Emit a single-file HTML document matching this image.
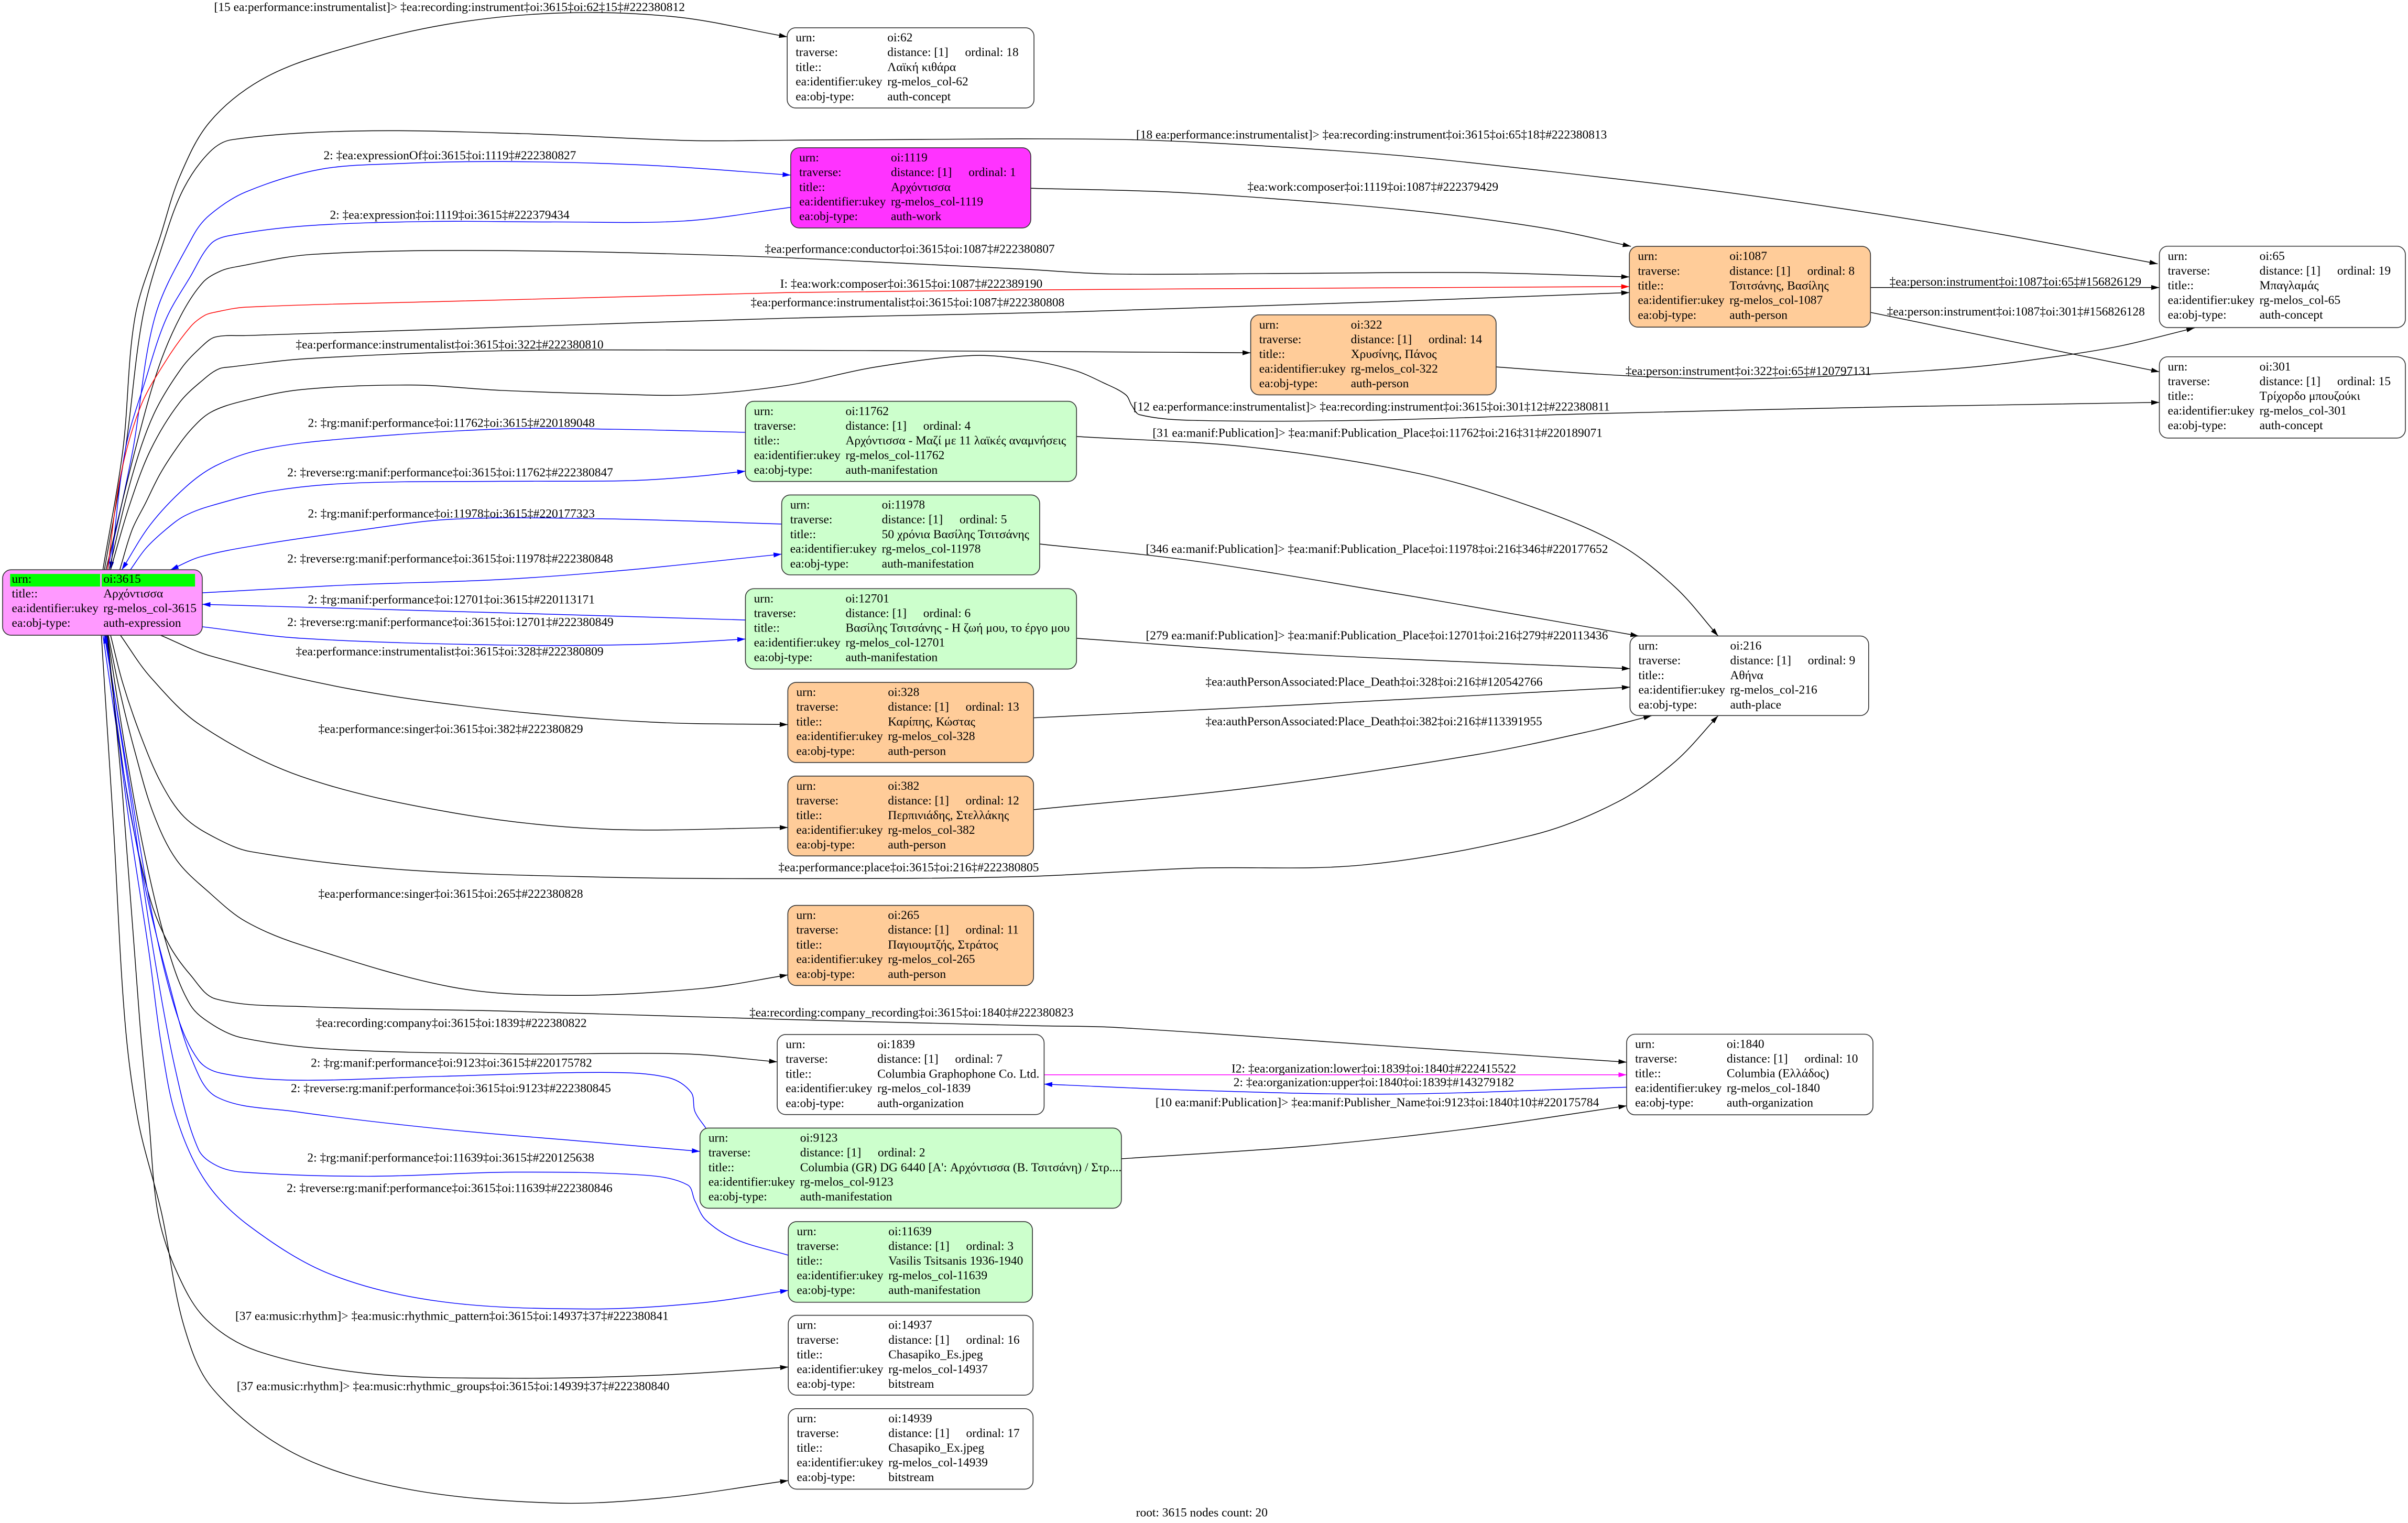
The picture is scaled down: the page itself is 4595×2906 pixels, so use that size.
<!DOCTYPE html>
<html><head><meta charset="utf-8">
<style>
html,body{margin:0;padding:0;background:#fff;}
svg{display:block;}
text{font-family:"Liberation Serif","DejaVu Serif",serif;font-size:8px;fill:#000;}
.e{fill:none;stroke-width:0.5;}
.k{stroke:#000;}
.b{stroke:#0000ff;}
.r{stroke:#ff0000;}
.m{stroke:#ff00ff;}
.n{stroke:#333;stroke-width:0.55;}
</style></head><body>
<svg width="4595" height="2906" viewBox="0 0 1568 991.65" preserveAspectRatio="none" xmlns="http://www.w3.org/2000/svg">
<defs>
<marker id="ak" markerUnits="userSpaceOnUse" markerWidth="6" markerHeight="4" refX="5.3" refY="1.6" orient="auto"><path d="M0,0L5.3,1.6L0,3.2z" fill="#000"/></marker>
<marker id="ab" markerUnits="userSpaceOnUse" markerWidth="6" markerHeight="4" refX="5.3" refY="1.6" orient="auto"><path d="M0,0L5.3,1.6L0,3.2z" fill="#0000ff"/></marker>
<marker id="ar" markerUnits="userSpaceOnUse" markerWidth="6" markerHeight="4" refX="5.3" refY="1.6" orient="auto"><path d="M0,0L5.3,1.6L0,3.2z" fill="#ff0000"/></marker>
<marker id="am" markerUnits="userSpaceOnUse" markerWidth="6" markerHeight="4" refX="5.3" refY="1.6" orient="auto"><path d="M0,0L5.3,1.6L0,3.2z" fill="#ff00ff"/></marker>
</defs>
<rect x="0" y="0" width="1568" height="991.65" fill="#fff"/>

<!-- EDGES -->
<g id="edges">
<polyline class="e k" marker-end="url(#ak)" points="67,371 80,293 88,206 104.5,153.6 117,115 136.5,79.5 170,52 215.5,34 290,16 364,8.5 440,11 512.6,24"/>
<polyline class="e k" marker-end="url(#ak)" points="68,371 81.6,293 93,206 107.7,153.6 120,122 136.5,99 150.8,91 232,85.3 340,87 447.8,91.5 511,91.3 600,90.8 665.4,90.4 738.8,91 812.3,94.4 910.2,101.2 1008.2,111.5 1106.1,122.9 1204,136.5 1302,152.4 1405,171.8"/>
<polyline class="e b" marker-end="url(#ab)" points="70,371 86.5,293 101,206 125.7,153.6 136.5,140 160,125 208.3,110.3 260,106.5 328,105.2 420,107.5 514.9,114"/>
<polyline class="e b" marker-end="url(#ab)" points="514.9,135 445.3,143.9 360,144.5 280,144.2 200,147 148.5,153.6 137,159 124,180 108,208 94.7,247.6 81.6,292.8 72,371"/>
<polyline class="e k" marker-end="url(#ak)" points="69,371 88,293 103,240 117.5,206 132,184 143.6,176.5 155,173.5 202.4,165.7 313.4,163.1 477.7,166.5 600,172 665.4,175.2 724.2,178.4 840,178 959.2,177.5 1061,180.3"/>
<polyline class="e r" marker-end="url(#ar)" points="70,371 78.4,310.3 91.4,265 107.7,235.4 124,212.8 133,205.5 140.4,203.2 160,200 300,196 512,190.5 665.4,188.8 850,187.7 1061,186.6"/>
<polyline class="e k" marker-end="url(#ak)" points="71,371 86,310 100,270 118,240 132,225 140.4,219.4 160,218.5 300,214 512,207.2 700,203 900,196.5 1061,190.5"/>
<polyline class="e k" marker-end="url(#ak)" points="72,371 84,330 98,293 117,262 135,245 143,240 150.2,238.9 200,233.5 326.5,228.4 477.7,228 650,228.7 814.4,229.7"/>
<polyline class="e k" marker-end="url(#ak)" points="78,371 86,345 94.7,327.7 104,309 114.3,292.8 125,279 137.1,268.5 156.7,261.5 195.9,253.7 267.7,250.7 326.5,254.2 400,256.6 450.5,257.1 512,251 570,239 633.2,231.5 670,234.5 699.8,241.2 718,249 733,257 737,264 742,270 776.4,273.7 887.5,273.7 1035.5,269.4 1245.7,264.6 1406.1,262"/>
<polyline class="e b" marker-end="url(#ab)" points="485.4,281.5 400,279.5 326.5,279.3 222,285.9 169.8,292.8 140.4,303.3 120.8,317.2 97.9,341.6 79.3,371"/>
<polyline class="e b" marker-end="url(#ab)" points="84.9,371 95,357 107.7,345 120,336 137.1,329.4 176.3,319.8 228.5,314.6 326.5,313.4 408,313 450,310.5 485.4,306.8"/>
<polyline class="e b" marker-end="url(#ab)" points="509,341.2 391.8,337.8 293.8,338.1 228.5,346 169.8,354.6 130.6,362.5 111,371"/>
<polyline class="e b" marker-end="url(#ab)" points="131.7,386 228.5,380.8 326.5,377.3 408,371.2 509,360.8"/>
<polyline class="e b" marker-end="url(#ab)" points="485.4,403.7 326.5,399 131.7,393.5"/>
<polyline class="e b" marker-end="url(#ab)" points="131.7,408.1 195.9,415.6 326.5,420 420,419.5 485.4,416.1"/>
<polyline class="e k" marker-end="url(#ak)" points="104.5,413.6 137.1,427.1 228.5,448.7 326.5,462.4 424.4,470.2 513,471.8"/>
<polyline class="e k" marker-end="url(#ak)" points="78.4,413.6 97.9,440.8 130.6,472.2 195.9,505.5 293.8,529 391.8,539.8 513,538.8"/>
<polyline class="e k" marker-end="url(#ak)" points="72,413.6 80,445 92,480 105,510 120,532 140.4,545.6 163.2,554.5 261.2,566.2 391.8,571.1 512,572.1 665.4,570.8 776.4,565.3 887.5,563.2 998.5,543.6 1054,521.8 1091,495.7 1118.8,466"/>
<polyline class="e k" marker-end="url(#ak)" points="70.5,413.6 78,450 88,490 100,530 115,560 137.1,581.9 160,600 195.9,615.2 293.8,642.6 368.9,648.1 457,643.6 513,634.8"/>
<polyline class="e k" marker-end="url(#ak)" points="69,413.6 76,470 85,530 97.9,585.8 110,615 124,634.8 140.4,650.4 200,655.5 326.5,658.3 512,663.8 675.6,667.9 727,669 900,680.8 1059.2,691.6"/>
<polyline class="e k" marker-end="url(#ak)" points="70,413.6 82,490 95,560 110,620 124,654.4 138.9,667.5 158,675.8 215.5,683.1 335,686.2 445.3,686.2 506.1,691.4"/>
<polyline class="e b" marker-end="url(#ab)" points="459.6,734.5 452.5,723.7 450,711.2 435.7,701.8 397.4,698.3 287.3,700.8 191.5,703.3 143.6,698.7 129.3,690.4 115,660 100,600 86,520 68,413.6"/>
<polyline class="e b" marker-end="url(#ab)" points="67,413.6 80,500 95,580 110,640 125,690 141.2,714.3 191.5,723.7 287.3,735.1 383,743.4 455.8,749.7"/>
<polyline class="e b" marker-end="url(#ab)" points="513.3,817.3 478.8,806.9 459.6,794.4 452.5,781.9 447.7,771.5 421.3,765.3 335.2,763.2 239.4,765.9 158,763.2 141.2,759 129.3,748.6 115,700 100,620 85,520 68.5,413.6"/>
<polyline class="e b" marker-end="url(#ab)" points="69.5,413.6 82,520 97,620 105,680 114.9,727.8 134,769.4 162.8,798.6 215.5,829.8 287.3,847.5 383,852.3 454.9,848.5 513.3,840.2"/>
<polyline class="e k" marker-end="url(#ak)" points="70,413.6 80,520 91,665 97,730 102.9,790.2 114.9,827.7 134,858.9 167.6,879.7 239.4,894.3 335.2,897.4 430.9,895.3 513.3,890.1"/>
<polyline class="e k" marker-end="url(#ak)" points="66,413.6 74,540 81.4,665.4 90,730 105.3,790.2 119.7,863.1 138.9,904.7 191.5,946.3 263.3,969.2 359.1,978.6 430.9,975.4 513.3,964"/>
<polyline class="e k" marker-end="url(#ak)" points="671.2,122.6 763.3,125.1 861.3,131.9 934.7,138.8 1008.2,149 1062,160.4"/>
<polyline class="e k" marker-end="url(#ak)" points="1218,187.2 1406.1,187.2"/>
<polyline class="e k" marker-end="url(#ak)" points="1218,203.4 1406.1,242.1"/>
<polyline class="e k" marker-end="url(#ak)" points="974.2,238.9 1035.5,243.3 1090,246 1133.6,246.7 1200,244.5 1282,239.2 1340,232 1381,225.2 1429,213.5"/>
<polyline class="e k" marker-end="url(#ak)" points="701,284.2 813.4,291.1 924.5,308.5 998.5,330.3 1054,354.2 1091,382.5 1118.8,414.1"/>
<polyline class="e k" marker-end="url(#ak)" points="677,354.2 776.4,365.1 924.5,389.1 1010,404 1067,414.1"/>
<polyline class="e k" marker-end="url(#ak)" points="701,415.6 850.4,426.1 1061.4,435.4"/>
<polyline class="e k" marker-end="url(#ak)" points="672.8,467.4 850.4,458.7 1061.4,447.4"/>
<polyline class="e k" marker-end="url(#ak)" points="672.8,527.2 813.4,513.1 961.5,491.3 1035.5,476.1 1075.5,466"/>
<polyline class="e m" marker-end="url(#am)" points="679.9,699.8 1059.2,699.8"/>
<polyline class="e b" marker-end="url(#ab)" points="1059.2,707.9 905,712.4 780,710 679.9,705.9"/>
<polyline class="e k" marker-end="url(#ak)" points="730.2,754.5 851.9,746.2 957.5,734.8 1059.2,720"/>
</g>

<!-- EDGE LABELS -->
<g id="labels">
<text x="139.4" y="7.2">[15 ea:performance:instrumentalist]&gt; ‡ea:recording:instrument‡oi:3615‡oi:62‡15‡#222380812</text>
<text x="739.8" y="90.2">[18 ea:performance:instrumentalist]&gt; ‡ea:recording:instrument‡oi:3615‡oi:65‡18‡#222380813</text>
<text x="210.7" y="103.8">2: ‡ea:expressionOf‡oi:3615‡oi:1119‡#222380827</text>
<text x="214.8" y="142.5">2: ‡ea:expression‡oi:1119‡oi:3615‡#222379434</text>
<text x="812.3" y="124.3">‡ea:work:composer‡oi:1119‡oi:1087‡#222379429</text>
<text x="498" y="164.7">‡ea:performance:conductor‡oi:3615‡oi:1087‡#222380807</text>
<text x="508" y="187.4">I: ‡ea:work:composer‡oi:3615‡oi:1087‡#222389190</text>
<text x="488.8" y="199.4">‡ea:performance:instrumentalist‡oi:3615‡oi:1087‡#222380808</text>
<text x="1230.4" y="186">‡ea:person:instrument‡oi:1087‡oi:65‡#156826129</text>
<text x="1228.7" y="205.4">‡ea:person:instrument‡oi:1087‡oi:301‡#156826128</text>
<text x="192.6" y="227">‡ea:performance:instrumentalist‡oi:3615‡oi:322‡#222380810</text>
<text x="1058.5" y="244.1">‡ea:person:instrument‡oi:322‡oi:65‡#120797131</text>
<text x="738" y="267.3">[12 ea:performance:instrumentalist]&gt; ‡ea:recording:instrument‡oi:3615‡oi:301‡12‡#222380811</text>
<text x="200.5" y="278">2: ‡rg:manif:performance‡oi:11762‡oi:3615‡#220189048</text>
<text x="750.5" y="284.4">[31 ea:manif:Publication]&gt; ‡ea:manif:Publication_Place‡oi:11762‡oi:216‡31‡#220189071</text>
<text x="187.1" y="310.2">2: ‡reverse:rg:manif:performance‡oi:3615‡oi:11762‡#222380847</text>
<text x="200.5" y="336.9">2: ‡rg:manif:performance‡oi:11978‡oi:3615‡#220177323</text>
<text x="746.1" y="360.1">[346 ea:manif:Publication]&gt; ‡ea:manif:Publication_Place‡oi:11978‡oi:216‡346‡#220177652</text>
<text x="187.1" y="366.3">2: ‡reverse:rg:manif:performance‡oi:3615‡oi:11978‡#222380848</text>
<text x="200.5" y="392.9">2: ‡rg:manif:performance‡oi:12701‡oi:3615‡#220113171</text>
<text x="187.1" y="407.7">2: ‡reverse:rg:manif:performance‡oi:3615‡oi:12701‡#222380849</text>
<text x="746.1" y="416.3">[279 ea:manif:Publication]&gt; ‡ea:manif:Publication_Place‡oi:12701‡oi:216‡279‡#220113436</text>
<text x="192.6" y="426.7">‡ea:performance:instrumentalist‡oi:3615‡oi:328‡#222380809</text>
<text x="785" y="446.5">‡ea:authPersonAssociated:Place_Death‡oi:328‡oi:216‡#120542766</text>
<text x="207.3" y="477.3">‡ea:performance:singer‡oi:3615‡oi:382‡#222380829</text>
<text x="785" y="472.2">‡ea:authPersonAssociated:Place_Death‡oi:382‡oi:216‡#113391955</text>
<text x="676.5" y="567.3" text-anchor="end">‡ea:performance:place‡oi:3615‡oi:216‡#222380805</text>
<text x="207.3" y="584.5">‡ea:performance:singer‡oi:3615‡oi:265‡#222380828</text>
<text x="488" y="661.9">‡ea:recording:company_recording‡oi:3615‡oi:1840‡#222380823</text>
<text x="205.7" y="668.7">‡ea:recording:company‡oi:3615‡oi:1839‡#222380822</text>
<text x="202.4" y="694.6">2: ‡rg:manif:performance‡oi:9123‡oi:3615‡#220175782</text>
<text x="801.9" y="698.4">I2: ‡ea:organization:lower‡oi:1839‡oi:1840‡#222415522</text>
<text x="803.2" y="707.3">2: ‡ea:organization:upper‡oi:1840‡oi:1839‡#143279182</text>
<text x="189.4" y="711.2">2: ‡reverse:rg:manif:performance‡oi:3615‡oi:9123‡#222380845</text>
<text x="752.4" y="720.3">[10 ea:manif:Publication]&gt; ‡ea:manif:Publisher_Name‡oi:9123‡oi:1840‡10‡#220175784</text>
<text x="200.1" y="756.4">2: ‡rg:manif:performance‡oi:11639‡oi:3615‡#220125638</text>
<text x="186.7" y="776.2">2: ‡reverse:rg:manif:performance‡oi:3615‡oi:11639‡#222380846</text>
<text x="153.2" y="859.4">[37 ea:music:rhythm]&gt; ‡ea:music:rhythmic_pattern‡oi:3615‡oi:14937‡37‡#222380841</text>
<text x="154.2" y="905.2">[37 ea:music:rhythm]&gt; ‡ea:music:rhythmic_groups‡oi:3615‡oi:14939‡37‡#222380840</text>
<text x="739.7" y="987.4">root: 3615 nodes count: 20</text>
</g>

<!-- ROOT NODE -->
<g transform="translate(1.7,371)">
<rect x="0" y="0" width="130" height="42.6" rx="5.5" fill="#ff99ff" class="n"/>
<rect x="4.9" y="2.7" width="58.6" height="8.2" fill="#00ff00"/>
<rect x="64.5" y="2.7" width="60.8" height="8.2" fill="#00ff00"/>
<text x="6" y="8.4">urn:</text><text x="65.6" y="8.4">oi:3615</text>
<text x="6" y="18">title::</text><text x="65.6" y="18">Αρχόντισσα</text>
<text x="6" y="27.5">ea:identifier:ukey</text><text x="65.6" y="27.5">rg-melos_col-3615</text>
<text x="6" y="37.1">ea:obj-type:</text><text x="65.6" y="37.1">auth-expression</text>
</g>

<!-- NODES -->
<g transform="translate(512.6,18.1)">
<rect width="160.7" height="52.2" rx="5.5" fill="#ffffff" class="n"/>
<text x="5.5" y="8.9">urn:</text><text x="65.2" y="8.9">oi:62</text>
<text x="5.5" y="18.5">traverse:</text><text x="65.2" y="18.5">distance: [1]</text><text x="115.8" y="18.5">ordinal: 18</text>
<text x="5.5" y="28.1">title::</text><text x="65.2" y="28.1">Λαϊκή κιθάρα</text>
<text x="5.5" y="37.6">ea:identifier:ukey</text><text x="65.2" y="37.6">rg-melos_col-62</text>
<text x="5.5" y="47.2">ea:obj-type:</text><text x="65.2" y="47.2">auth-concept</text>
</g>

<g transform="translate(514.9,96.2)">
<rect width="156.3" height="52.2" rx="5.5" fill="#ff33ff" class="n"/>
<text x="5.5" y="8.9">urn:</text><text x="65.2" y="8.9">oi:1119</text>
<text x="5.5" y="18.5">traverse:</text><text x="65.2" y="18.5">distance: [1]</text><text x="115.8" y="18.5">ordinal: 1</text>
<text x="5.5" y="28.1">title::</text><text x="65.2" y="28.1">Αρχόντισσα</text>
<text x="5.5" y="37.6">ea:identifier:ukey</text><text x="65.2" y="37.6">rg-melos_col-1119</text>
<text x="5.5" y="47.2">ea:obj-type:</text><text x="65.2" y="47.2">auth-work</text>
</g>

<g transform="translate(1061,160.4)">
<rect width="157" height="52.6" rx="5.5" fill="#ffcc99" class="n"/>
<text x="5.5" y="8.9">urn:</text><text x="65.2" y="8.9">oi:1087</text>
<text x="5.5" y="18.5">traverse:</text><text x="65.2" y="18.5">distance: [1]</text><text x="115.8" y="18.5">ordinal: 8</text>
<text x="5.5" y="28.1">title::</text><text x="65.2" y="28.1">Τσιτσάνης, Βασίλης</text>
<text x="5.5" y="37.6">ea:identifier:ukey</text><text x="65.2" y="37.6">rg-melos_col-1087</text>
<text x="5.5" y="47.2">ea:obj-type:</text><text x="65.2" y="47.2">auth-person</text>
</g>

<g transform="translate(1406.1,160.3)">
<rect width="160.2" height="53" rx="5.5" fill="#ffffff" class="n"/>
<text x="5.5" y="8.9">urn:</text><text x="65.2" y="8.9">oi:65</text>
<text x="5.5" y="18.5">traverse:</text><text x="65.2" y="18.5">distance: [1]</text><text x="115.8" y="18.5">ordinal: 19</text>
<text x="5.5" y="28.1">title::</text><text x="65.2" y="28.1">Μπαγλαμάς</text>
<text x="5.5" y="37.6">ea:identifier:ukey</text><text x="65.2" y="37.6">rg-melos_col-65</text>
<text x="5.5" y="47.2">ea:obj-type:</text><text x="65.2" y="47.2">auth-concept</text>
</g>

<g transform="translate(1406.1,232.3)">
<rect width="160.2" height="52.9" rx="5.5" fill="#ffffff" class="n"/>
<text x="5.5" y="8.9">urn:</text><text x="65.2" y="8.9">oi:301</text>
<text x="5.5" y="18.5">traverse:</text><text x="65.2" y="18.5">distance: [1]</text><text x="115.8" y="18.5">ordinal: 15</text>
<text x="5.5" y="28.1">title::</text><text x="65.2" y="28.1">Τρίχορδο μπουζούκι</text>
<text x="5.5" y="37.6">ea:identifier:ukey</text><text x="65.2" y="37.6">rg-melos_col-301</text>
<text x="5.5" y="47.2">ea:obj-type:</text><text x="65.2" y="47.2">auth-concept</text>
</g>

<g transform="translate(814.4,205)">
<rect width="159.8" height="52.1" rx="5.5" fill="#ffcc99" class="n"/>
<text x="5.5" y="8.9">urn:</text><text x="65.2" y="8.9">oi:322</text>
<text x="5.5" y="18.5">traverse:</text><text x="65.2" y="18.5">distance: [1]</text><text x="115.8" y="18.5">ordinal: 14</text>
<text x="5.5" y="28.1">title::</text><text x="65.2" y="28.1">Χρυσίνης, Πάνος</text>
<text x="5.5" y="37.6">ea:identifier:ukey</text><text x="65.2" y="37.6">rg-melos_col-322</text>
<text x="5.5" y="47.2">ea:obj-type:</text><text x="65.2" y="47.2">auth-person</text>
</g>

<g transform="translate(485.4,261.3)">
<rect width="215.6" height="52.2" rx="5.5" fill="#ccffcc" class="n"/>
<text x="5.5" y="8.9">urn:</text><text x="65.2" y="8.9">oi:11762</text>
<text x="5.5" y="18.5">traverse:</text><text x="65.2" y="18.5">distance: [1]</text><text x="115.8" y="18.5">ordinal: 4</text>
<text x="5.5" y="28.1">title::</text><text x="65.2" y="28.1">Αρχόντισσα - Μαζί με 11 λαϊκές αναμνήσεις</text>
<text x="5.5" y="37.6">ea:identifier:ukey</text><text x="65.2" y="37.6">rg-melos_col-11762</text>
<text x="5.5" y="47.2">ea:obj-type:</text><text x="65.2" y="47.2">auth-manifestation</text>
</g>

<g transform="translate(509,322.3)">
<rect width="168" height="52" rx="5.5" fill="#ccffcc" class="n"/>
<text x="5.5" y="8.9">urn:</text><text x="65.2" y="8.9">oi:11978</text>
<text x="5.5" y="18.5">traverse:</text><text x="65.2" y="18.5">distance: [1]</text><text x="115.8" y="18.5">ordinal: 5</text>
<text x="5.5" y="28.1">title::</text><text x="65.2" y="28.1">50 χρόνια Βασίλης Τσιτσάνης</text>
<text x="5.5" y="37.6">ea:identifier:ukey</text><text x="65.2" y="37.6">rg-melos_col-11978</text>
<text x="5.5" y="47.2">ea:obj-type:</text><text x="65.2" y="47.2">auth-manifestation</text>
</g>

<g transform="translate(485.4,383.3)">
<rect width="215.6" height="52.3" rx="5.5" fill="#ccffcc" class="n"/>
<text x="5.5" y="8.9">urn:</text><text x="65.2" y="8.9">oi:12701</text>
<text x="5.5" y="18.5">traverse:</text><text x="65.2" y="18.5">distance: [1]</text><text x="115.8" y="18.5">ordinal: 6</text>
<text x="5.5" y="28.1">title::</text><text x="65.2" y="28.1">Βασίλης Τσιτσάνης - Η ζωή μου, το έργο μου</text>
<text x="5.5" y="37.6">ea:identifier:ukey</text><text x="65.2" y="37.6">rg-melos_col-12701</text>
<text x="5.5" y="47.2">ea:obj-type:</text><text x="65.2" y="47.2">auth-manifestation</text>
</g>

<g transform="translate(1061.4,414.1)">
<rect width="155.4" height="51.8" rx="5.5" fill="#ffffff" class="n"/>
<text x="5.5" y="8.9">urn:</text><text x="65.2" y="8.9">oi:216</text>
<text x="5.5" y="18.5">traverse:</text><text x="65.2" y="18.5">distance: [1]</text><text x="115.8" y="18.5">ordinal: 9</text>
<text x="5.5" y="28.1">title::</text><text x="65.2" y="28.1">Αθήνα</text>
<text x="5.5" y="37.6">ea:identifier:ukey</text><text x="65.2" y="37.6">rg-melos_col-216</text>
<text x="5.5" y="47.2">ea:obj-type:</text><text x="65.2" y="47.2">auth-place</text>
</g>

<g transform="translate(513,444.3)">
<rect width="160" height="52.2" rx="5.5" fill="#ffcc99" class="n"/>
<text x="5.5" y="8.9">urn:</text><text x="65.2" y="8.9">oi:328</text>
<text x="5.5" y="18.5">traverse:</text><text x="65.2" y="18.5">distance: [1]</text><text x="115.8" y="18.5">ordinal: 13</text>
<text x="5.5" y="28.1">title::</text><text x="65.2" y="28.1">Καρίπης, Κώστας</text>
<text x="5.5" y="37.6">ea:identifier:ukey</text><text x="65.2" y="37.6">rg-melos_col-328</text>
<text x="5.5" y="47.2">ea:obj-type:</text><text x="65.2" y="47.2">auth-person</text>
</g>

<g transform="translate(513,505.3)">
<rect width="160" height="52" rx="5.5" fill="#ffcc99" class="n"/>
<text x="5.5" y="8.9">urn:</text><text x="65.2" y="8.9">oi:382</text>
<text x="5.5" y="18.5">traverse:</text><text x="65.2" y="18.5">distance: [1]</text><text x="115.8" y="18.5">ordinal: 12</text>
<text x="5.5" y="28.1">title::</text><text x="65.2" y="28.1">Περπινιάδης, Στελλάκης</text>
<text x="5.5" y="37.6">ea:identifier:ukey</text><text x="65.2" y="37.6">rg-melos_col-382</text>
<text x="5.5" y="47.2">ea:obj-type:</text><text x="65.2" y="47.2">auth-person</text>
</g>

<g transform="translate(513,589.5)">
<rect width="160" height="52.2" rx="5.5" fill="#ffcc99" class="n"/>
<text x="5.5" y="8.9">urn:</text><text x="65.2" y="8.9">oi:265</text>
<text x="5.5" y="18.5">traverse:</text><text x="65.2" y="18.5">distance: [1]</text><text x="115.8" y="18.5">ordinal: 11</text>
<text x="5.5" y="28.1">title::</text><text x="65.2" y="28.1">Παγιουμτζής, Στράτος</text>
<text x="5.5" y="37.6">ea:identifier:ukey</text><text x="65.2" y="37.6">rg-melos_col-265</text>
<text x="5.5" y="47.2">ea:obj-type:</text><text x="65.2" y="47.2">auth-person</text>
</g>

<g transform="translate(506.1,673.6)">
<rect width="173.8" height="52.1" rx="5.5" fill="#ffffff" class="n"/>
<text x="5.5" y="8.9">urn:</text><text x="65.2" y="8.9">oi:1839</text>
<text x="5.5" y="18.5">traverse:</text><text x="65.2" y="18.5">distance: [1]</text><text x="115.8" y="18.5">ordinal: 7</text>
<text x="5.5" y="28.1">title::</text><text x="65.2" y="28.1">Columbia Graphophone Co. Ltd.</text>
<text x="5.5" y="37.6">ea:identifier:ukey</text><text x="65.2" y="37.6">rg-melos_col-1839</text>
<text x="5.5" y="47.2">ea:obj-type:</text><text x="65.2" y="47.2">auth-organization</text>
</g>

<g transform="translate(1059.2,673.4)">
<rect width="160.4" height="52.5" rx="5.5" fill="#ffffff" class="n"/>
<text x="5.5" y="8.9">urn:</text><text x="65.2" y="8.9">oi:1840</text>
<text x="5.5" y="18.5">traverse:</text><text x="65.2" y="18.5">distance: [1]</text><text x="115.8" y="18.5">ordinal: 10</text>
<text x="5.5" y="28.1">title::</text><text x="65.2" y="28.1">Columbia (Ελλάδος)</text>
<text x="5.5" y="37.6">ea:identifier:ukey</text><text x="65.2" y="37.6">rg-melos_col-1840</text>
<text x="5.5" y="47.2">ea:obj-type:</text><text x="65.2" y="47.2">auth-organization</text>
</g>

<g transform="translate(455.8,734.5)">
<rect width="274.4" height="52.2" rx="5.5" fill="#ccffcc" class="n"/>
<text x="5.5" y="8.9">urn:</text><text x="65.2" y="8.9">oi:9123</text>
<text x="5.5" y="18.5">traverse:</text><text x="65.2" y="18.5">distance: [1]</text><text x="115.8" y="18.5">ordinal: 2</text>
<text x="5.5" y="28.1">title::</text><text x="65.2" y="28.1">Columbia (GR) DG 6440 [A': Αρχόντισσα (Β. Τσιτσάνη) / Στρ....</text>
<text x="5.5" y="37.6">ea:identifier:ukey</text><text x="65.2" y="37.6">rg-melos_col-9123</text>
<text x="5.5" y="47.2">ea:obj-type:</text><text x="65.2" y="47.2">auth-manifestation</text>
</g>

<g transform="translate(513.3,795.4)">
<rect width="159" height="52.5" rx="5.5" fill="#ccffcc" class="n"/>
<text x="5.5" y="8.9">urn:</text><text x="65.2" y="8.9">oi:11639</text>
<text x="5.5" y="18.5">traverse:</text><text x="65.2" y="18.5">distance: [1]</text><text x="115.8" y="18.5">ordinal: 3</text>
<text x="5.5" y="28.1">title::</text><text x="65.2" y="28.1">Vasilis Tsitsanis 1936-1940</text>
<text x="5.5" y="37.6">ea:identifier:ukey</text><text x="65.2" y="37.6">rg-melos_col-11639</text>
<text x="5.5" y="47.2">ea:obj-type:</text><text x="65.2" y="47.2">auth-manifestation</text>
</g>

<g transform="translate(513.3,856.4)">
<rect width="159.4" height="52" rx="5.5" fill="#ffffff" class="n"/>
<text x="5.5" y="8.9">urn:</text><text x="65.2" y="8.9">oi:14937</text>
<text x="5.5" y="18.5">traverse:</text><text x="65.2" y="18.5">distance: [1]</text><text x="115.8" y="18.5">ordinal: 16</text>
<text x="5.5" y="28.1">title::</text><text x="65.2" y="28.1">Chasapiko_Es.jpeg</text>
<text x="5.5" y="37.6">ea:identifier:ukey</text><text x="65.2" y="37.6">rg-melos_col-14937</text>
<text x="5.5" y="47.2">ea:obj-type:</text><text x="65.2" y="47.2">bitstream</text>
</g>

<g transform="translate(513.3,917.2)">
<rect width="159.4" height="52.4" rx="5.5" fill="#ffffff" class="n"/>
<text x="5.5" y="8.9">urn:</text><text x="65.2" y="8.9">oi:14939</text>
<text x="5.5" y="18.5">traverse:</text><text x="65.2" y="18.5">distance: [1]</text><text x="115.8" y="18.5">ordinal: 17</text>
<text x="5.5" y="28.1">title::</text><text x="65.2" y="28.1">Chasapiko_Ex.jpeg</text>
<text x="5.5" y="37.6">ea:identifier:ukey</text><text x="65.2" y="37.6">rg-melos_col-14939</text>
<text x="5.5" y="47.2">ea:obj-type:</text><text x="65.2" y="47.2">bitstream</text>
</g>
</svg>
<script>
(function(){
  var NS='http://www.w3.org/2000/svg';
  var pls=document.querySelectorAll('polyline.e');
  for(var k=0;k<pls.length;k++){
    var pl=pls[k];
    var raw=pl.getAttribute('points').trim().split(/\s+/);
    var pts=raw.map(function(s){var a=s.split(',');return [parseFloat(a[0]),parseFloat(a[1])];});
    if(pts.length<3) continue;
    var n=pts.length, dirs=[];
    for(var i=0;i<n;i++){
      var a=pts[Math.max(0,i-1)], b=pts[Math.min(n-1,i+1)];
      var dx=b[0]-a[0], dy=b[1]-a[1], l=Math.sqrt(dx*dx+dy*dy)||1;
      dirs.push([dx/l,dy/l]);
    }
    var d='M'+pts[0][0]+','+pts[0][1];
    for(var j=0;j<n-1;j++){
      var p1=pts[j],p2=pts[j+1];
      var sx=p2[0]-p1[0], sy=p2[1]-p1[1], L=Math.sqrt(sx*sx+sy*sy)/3;
      var c1x=p1[0]+dirs[j][0]*L, c1y=p1[1]+dirs[j][1]*L;
      var c2x=p2[0]-dirs[j+1][0]*L, c2y=p2[1]-dirs[j+1][1]*L;
      d+=' C'+c1x.toFixed(2)+','+c1y.toFixed(2)+' '+c2x.toFixed(2)+','+c2y.toFixed(2)+' '+p2[0]+','+p2[1];
    }
    var p=document.createElementNS(NS,'path');
    p.setAttribute('d',d);
    p.setAttribute('class',pl.getAttribute('class'));
    var me=pl.getAttribute('marker-end');
    if(me) p.setAttribute('marker-end',me);
    pl.parentNode.replaceChild(p,pl);
  }
})();
</script>
</body></html>
